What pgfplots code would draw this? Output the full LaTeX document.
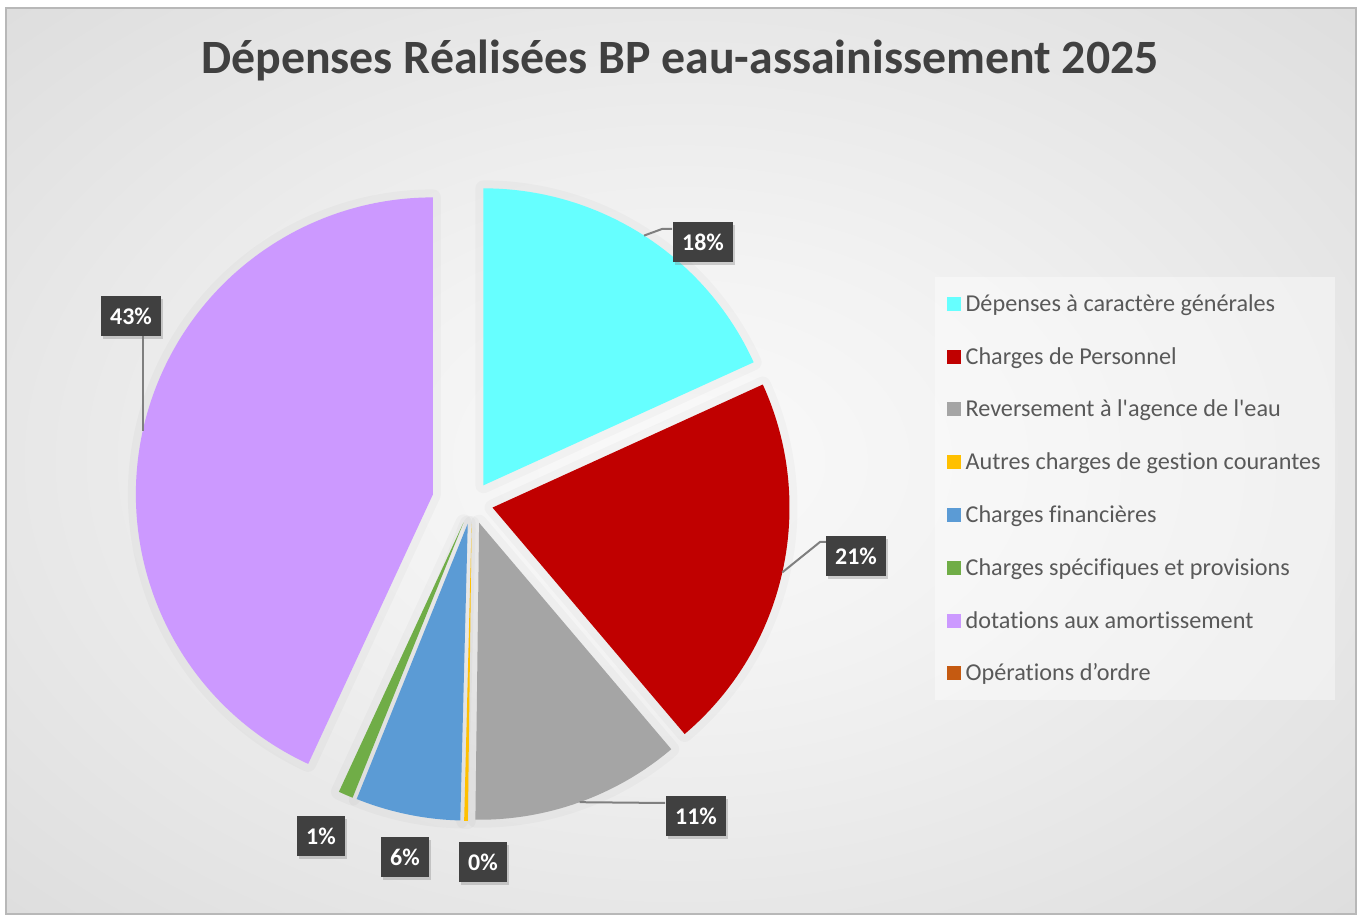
\documentclass[border=0pt]{standalone}
\usepackage{fontspec}
\setmainfont{Carlito}[Ligatures={TeX,NoCommon}]
\usepackage{pgfplots}
\pgfplotsset{compat=1.18}
\usepackage{pgfplotstable}
\usetikzlibrary{shadows}

\definecolor{sl0}{RGB}{102,255,255}
\definecolor{sl1}{RGB}{192,0,0}
\definecolor{sl2}{RGB}{165,165,165}
\definecolor{sl3}{RGB}{255,192,0}
\definecolor{sl4}{RGB}{91,155,213}
\definecolor{sl5}{RGB}{112,173,71}
\definecolor{sl6}{RGB}{204,153,255}
\definecolor{sl7}{RGB}{197,90,17}
\definecolor{titlegray}{RGB}{64,64,64}
\definecolor{leggray}{RGB}{89,89,89}
\definecolor{labbg}{RGB}{64,64,64}
\definecolor{leadgray}{RGB}{127,127,127}

\pgfdeclareradialshading{bgshade}{\pgfpoint{0bp}{0bp}}{%
  color(0bp)=(white!98!black);
  color(12bp)=(white!95!black);
  color(50bp)=(white!82!black);
  color(72bp)=(white!78!black)}

\tikzset{
  labbox/.style={fill=labbg, text=white, font=\bfseries\fontsize{24}{28}\selectfont,
    inner xsep=9bp, inner ysep=0bp, minimum height=40bp,
    drop shadow={shadow xshift=2bp, shadow yshift=-3bp, opacity=0.35}},
  lead/.style={draw=leadgray, line width=2bp},
}

% share of each item (%) and how far its slice is pulled out (px)
\pgfplotstableread{
id value explode
0 18.2 21
1 20.6 21
2 11.4 21
3 0.2 21
4 5.7 21
5 0.8 21
6 43.1 40
7 0.0 0
}\piedata

\begin{document}
\begin{tikzpicture}
\def\cx{472}\def\cy{413}\def\rr{297}
\xdef\cum{90}
\foreach \i in {0,...,6}{%
  \pgfplotstablegetelem{\i}{value}\of\piedata \let\v\pgfplotsretval
  \pgfplotstablegetelem{\i}{explode}\of\piedata \let\d\pgfplotsretval
  \pgfmathsetmacro\s{\cum}%
  \pgfmathsetmacro\e{\cum-3.6*\v}%
  \pgfmathsetmacro\m{(\s+\e)/2}%
  \pgfmathsetmacro\ox{\cx+\d*cos(\m)}%
  \pgfmathsetmacro\oy{\cy+\d*sin(\m)}%
  \pgfmathsetmacro\lx{\ox+\rr*cos(\m)}%
  \pgfmathsetmacro\ly{\oy+\rr*sin(\m)}%
  \expandafter\xdef\csname ps\i\endcsname{\s}%
  \expandafter\xdef\csname pe\i\endcsname{\e}%
  \expandafter\xdef\csname ox\i\endcsname{\ox}%
  \expandafter\xdef\csname oy\i\endcsname{\oy}%
  \expandafter\xdef\csname lx\i\endcsname{\lx}%
  \expandafter\xdef\csname ly\i\endcsname{\ly}%
  \xdef\cum{\e}%
}
\begin{axis}[
  width=1360bp, height=916bp, scale only axis,
  xmin=0, xmax=1360, ymin=0, ymax=916,
  hide axis, clip=false,
  legend image code/.code={\fill[#1, fill opacity=1] (0bp,-6.5bp) rectangle (13bp,6.5bp);},
  legend cell align=left,
  legend style={at={(axis cs:935,639)}, anchor=north west,
    draw=none, fill=white, fill opacity=0.4, text opacity=1,
    font=\fontsize{24.3}{28}\selectfont, text=leggray,
    inner xsep=12bp, inner ysep=0bp, row sep=0bp, column sep=3bp,
    nodes={minimum height=52.8bp, inner ysep=0bp}},
]
% background
\fill[white] (axis cs:0,0) rectangle (axis cs:1360,916);
\shade[shading=bgshade] (axis cs:6,2) rectangle (axis cs:1356,908);
\draw[white!72!black, line width=1.2bp] (axis cs:6,2) rectangle (axis cs:1356,908);
% title
\node[font=\bfseries\fontsize{48}{56}\selectfont, text=titlegray] at (axis cs:680,856)
  {Dépenses Réalisées BP eau-assainissement 2025};
% soft halo under slices
\pgfplotsinvokeforeach{0,...,6}{
  \draw[black, draw opacity=0.025, line width=16bp, line join=round]
    (axis cs:\csname ox#1\endcsname,\csname oy#1\endcsname) -- ++(\csname ps#1\endcsname:\rr bp)
    arc[start angle=\csname ps#1\endcsname, end angle=\csname pe#1\endcsname, radius=\rr bp] -- cycle;
}
% slices
\pgfplotsinvokeforeach{0,...,6}{
  \fill[sl#1]
    (axis cs:\csname ox#1\endcsname,\csname oy#1\endcsname) -- ++(\csname ps#1\endcsname:\rr bp)
    arc[start angle=\csname ps#1\endcsname, end angle=\csname pe#1\endcsname, radius=\rr bp] -- cycle;
}
% leader lines
\draw[lead] (axis cs:\csname lx0\endcsname,\csname ly0\endcsname) -- (axis cs:662,687) -- (axis cs:672,687);
\draw[lead] (axis cs:\csname lx1\endcsname,\csname ly1\endcsname) -- (axis cs:820,374) -- (axis cs:826,374);
\draw[lead] (axis cs:\csname lx2\endcsname,\csname ly2\endcsname) -- (axis cs:665,113);
\draw[lead] (axis cs:\csname lx6\endcsname,\csname ly6\endcsname) -- (axis cs:\csname lx6\endcsname,580);
% data labels
\node[labbox] at (axis cs:703,674) {18\%};
\node[labbox] at (axis cs:856,360) {21\%};
\node[labbox] at (axis cs:696,100) {11\%};
\node[labbox] at (axis cs:483,54) {0\%};
\node[labbox] at (axis cs:405,59) {6\%};
\node[labbox] at (axis cs:321,80) {1\%};
\node[labbox] at (axis cs:131,600) {43\%};
% legend
\addlegendimage{sl0}\addlegendentry{Dépenses à caractère générales}
\addlegendimage{sl1}\addlegendentry{Charges de Personnel}
\addlegendimage{sl2}\addlegendentry{Reversement à l\textquotesingle agence de l\textquotesingle eau}
\addlegendimage{sl3}\addlegendentry{Autres charges de gestion courantes}
\addlegendimage{sl4}\addlegendentry{Charges financières}
\addlegendimage{sl5}\addlegendentry{Charges spécifiques et provisions}
\addlegendimage{sl6}\addlegendentry{dotations aux amortissement}
\addlegendimage{sl7}\addlegendentry{Opérations d’ordre}
\end{axis}
\end{tikzpicture}
\end{document}
